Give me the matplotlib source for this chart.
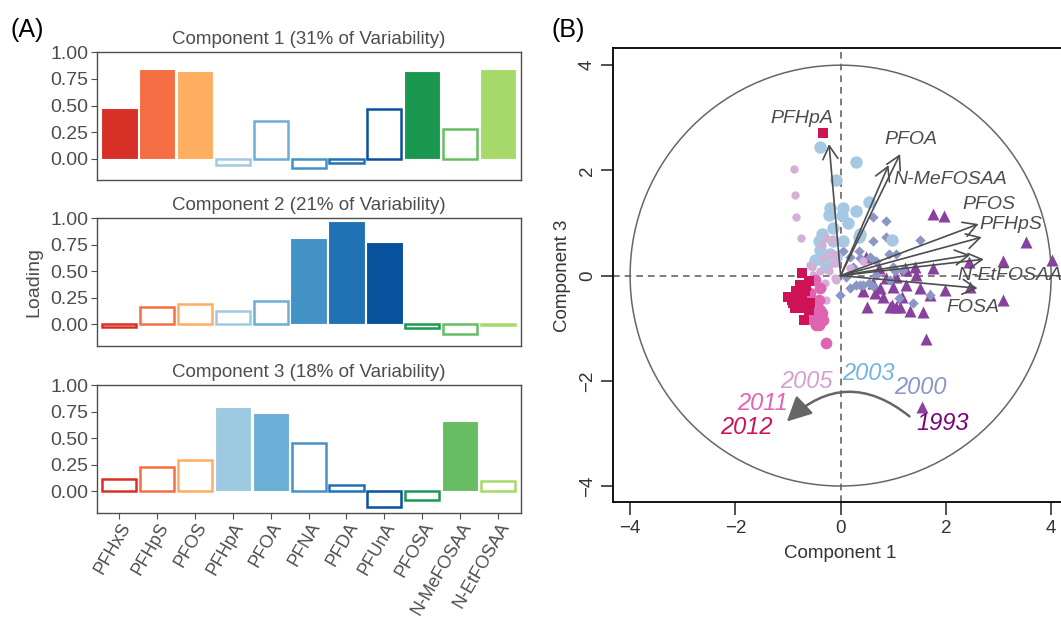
import matplotlib
matplotlib.use("Agg")
import matplotlib.pyplot as plt
from matplotlib.patches import Circle, FancyArrowPatch
import numpy as np

plt.rcParams['font.family'] = ['Liberation Sans', 'DejaVu Sans']

# Loadings for panel A
compounds = ['PFHxS', 'PFHpS', 'PFOS', 'PFHpA', 'PFOA', 'PFNA', 'PFDA', 'PFUnA',
             'PFOSA', 'N-MeFOSAA', 'N-EtFOSAA']
bar_colors = ['#d73027', '#f46d43', '#fdae61', '#9ecae1', '#6baed6', '#4292c6',
              '#2171b5', '#08519c', '#1a9850', '#66bd63', '#a6d96a']
comp1 = [0.48, 0.84, 0.82, -0.06, 0.355, -0.09, -0.04, 0.47, 0.82, 0.28, 0.84]
comp2 = [-0.02, 0.165, 0.195, 0.13, 0.22, 0.815, 0.97, 0.77, -0.03, -0.09, -0.01]
comp3 = [0.12, 0.23, 0.30, 0.79, 0.735, 0.455, 0.06, -0.15, -0.085, 0.66, 0.10]
comp_titles = ['Component 1 (31% of Variability)', 'Component 2 (21% of Variability)',
               'Component 3 (18% of Variability)']

# Scores for panel B (Component 1 vs Component 3)
years = ['1993', '2000', '2003', '2005', '2011', '2012']
x1993 = [1.76, 1.97, 3.52, 4.02, 3.09, 2.43, 1.75, 1.41, 1.25, 0.72, 0.49, 0.87, 1.06,
         1.43, 0.43, 0.75, 1.00, 1.25, 1.51, 1.70, 1.98, 2.46, 3.09, 0.51, 0.94, 1.06,
         1.32, 1.56, 0.65, 0.81, 1.16, 1.62, 1.55, 1.22, 0.62, 0.97, 1.13]
y1993 = [1.17, 1.14, 0.63, 0.30, 0.27, 0.25, 0.14, 0.17, 0.11, 0.14, 0.36, -0.05, -0.02,
         0.01, -0.30, -0.24, -0.21, -0.18, -0.24, -0.37, -0.27, -0.21, -0.46, -0.59, -0.59,
         -0.59, -0.68, -0.70, -0.34, -0.40, -0.40, -1.20, -2.50, 0.14, -0.15, -0.56, -0.59]
x2000 = [0.62, 0.87, 0.87, 0.62, 1.51, 0.91, 1.06, 0.34, 0.18, 0.37, 0.05, 0.24, 0.68,
         1.00, 1.19, 0.18, 0.37, 0.53, 0.62, -0.01, 1.10, 1.38, 1.70, 0.68, 0.94, 0.11,
         0.43, 0.56, 1.03, 0.30]
y2000 = [1.12, 1.03, 0.74, 0.65, 0.68, 0.42, 0.42, 0.46, 0.36, 0.33, 0.46, 0.17, 0.27,
         0.17, 0.11, -0.24, -0.18, -0.15, -0.20, -0.37, -0.43, -0.53, -0.37, 0.01, -0.08,
         -0.02, -0.18, 0.36, 0.08, -0.18]
x2003 = [-0.39, 0.29, -0.08, 0.54, -0.20, 0.05, -0.23, 0.02, 0.30, 0.14, -0.14, 0.34,
         -0.36, -0.42, -0.14, 0.05, 0.97, -0.39, -0.20, -0.49, -0.33, -0.08, -0.27, 0.37]
y2003 = [2.45, 2.15, 1.82, 1.39, 1.28, 1.28, 1.15, 1.15, 1.22, 1.00, 0.90, 0.74, 0.80,
         0.65, 0.65, 0.65, 0.68, 0.49, 0.42, 0.30, 0.30, 0.36, 0.17, 0.80]
x2005 = [-0.89, -0.87, -0.84, -0.75, -0.27, -0.36, -0.20, -0.14, -0.58, -0.33, -0.39,
         -0.23, -0.08, 0.18, 0.43, -0.30, -0.36, -0.52, -0.14, -0.55, -0.46, -0.11,
         -0.27, -0.17, -0.08]
y2005 = [2.03, 1.53, 1.12, 0.72, 0.71, 0.58, 0.42, 0.42, 0.20, 0.33, 0.08, 0.08, -0.08,
         0.14, 0.27, -0.15, -0.24, 0.01, 0.23, 0.17, -0.05, -0.05, -0.46, 0.68, 0.23]
x2011 = [-0.49, -0.39, -0.42, -0.39, -0.52, -0.42, -0.27, -0.52, -0.58, -0.46, -0.33,
         -0.58, -0.36, -0.46]
y2011 = [-0.08, -0.24, -0.46, -0.65, -0.84, -0.94, -1.29, -0.49, -0.65, -0.78, -0.84,
         -0.34, -0.72, -0.94]
x2012 = [-0.74, -0.61, -0.84, -1.00, -0.90, -0.74, -0.58, -0.80, -0.61, -0.70, -0.93,
         -0.68, -0.78, -0.34, -0.86, -0.66]
y2012 = [0.04, -0.11, -0.30, -0.40, -0.53, -0.46, -0.53, -0.62, -0.65, -0.84, -0.46,
         -0.30, -0.17, 2.71, -0.62, -0.20]

# loading vectors (tip positions) and their labels
vec_names = ['PFHpA', 'PFOA', 'N-MeFOSAA', 'PFOS', 'PFHpS', '', 'N-EtFOSAA', 'FOSA']
vec_x = [-0.22, 1.13, 0.91, 2.62, 2.68, 2.46, 2.72, 2.60]
vec_y = [2.50, 2.31, 2.10, 0.98, 0.73, 0.39, 0.31, -0.24]
vec_lab_x = [-0.74, 1.33, 2.08, 2.81, 3.24, 0, 3.22, 2.51]
vec_lab_y = [2.99, 2.59, 1.82, 1.36, 0.98, 0, 0.00, -0.61]

# year labels
year_lab_x = [1.94, 1.51, 0.53, -0.65, -1.48, -1.80]
year_lab_y = [-2.81, -2.12, -1.87, -2.01, -2.43, -2.89]

grey = '#4d4d4d'

fig = plt.figure(figsize=(10.61, 6.19), dpi=100)

# ---- Panel A ----
loadings = [comp1, comp2, comp3]
all_load = np.array(loadings)
best = np.abs(all_load).argmax(axis=0)
bottoms = [0.7092, 0.4415, 0.1717]
xpos = np.arange(len(compounds))
for i in range(3):
    ax = fig.add_axes([0.0911, bottoms[i], 0.3996, 0.2063])
    for j in range(len(compounds)):
        if best[j] == i:
            ax.bar(xpos[j], loadings[i][j], width=0.96, color=bar_colors[j],
                   edgecolor='white', linewidth=0.8)
        else:
            ax.bar(xpos[j], loadings[i][j], width=0.9, color='white',
                   edgecolor=bar_colors[j], linewidth=1.8)
    ax.set_xlim(-0.6, 10.6)
    ax.set_ylim(-0.2, 1.0)
    ax.set_yticks([0, 0.25, 0.5, 0.75, 1.0])
    ax.set_yticklabels(['0.00', '0.25', '0.50', '0.75', '1.00'])
    ax.set_title(comp_titles[i], fontsize=13.5, color=grey, pad=6)
    for s in ax.spines.values():
        s.set_color(grey)
        s.set_linewidth(1.0)
    ax.tick_params(axis='y', labelsize=14, labelcolor=grey, color=grey, length=4, pad=2)
    if i < 2:
        ax.set_xticks([])
    else:
        ax.set_xticks(xpos)
        ax.set_xticklabels(compounds, rotation=60, ha='right', va='top',
                           rotation_mode='anchor')
        ax.tick_params(axis='x', labelsize=12.8, labelcolor=grey, color=grey,
                       length=4, pad=1)
    if i == 1:
        ax.set_ylabel('Loading', fontsize=14, color=grey, labelpad=6)

fig.text(0.010, 0.952, '(A)', fontsize=18, va='center', ha='left')
fig.text(0.520, 0.952, '(B)', fontsize=18, va='center', ha='left')

# ---- Panel B ----
ax = fig.add_axes([0.578, 0.1885, 0.4286, 0.7334])
ax.set_xlim(-4.32, 4.32)
ax.set_ylim(-4.31, 4.32)
ax.axhline(0, color='#666666', lw=1.2, ls=(0, (4, 3)), zorder=1)
ax.axvline(0, color='#666666', lw=1.2, ls=(0, (4, 3)), zorder=1)
ax.add_patch(Circle((0, 0), 4, fill=False, color='#666666', lw=1.1, zorder=1))

ax.scatter(x1993, y1993, marker='^', s=75, color='#88419d', lw=0, zorder=2)
ax.scatter(x2000, y2000, marker='D', s=28, color='#8c96c6', lw=0, zorder=2)
ax.scatter(x2003, y2003, marker='o', s=80, color='#a6c8e2', lw=0, zorder=2)
ax.scatter(x2005, y2005, marker='o', s=36, color='#d4b0d8', lw=0, zorder=2)
ax.scatter(x2011, y2011, marker='o', s=70, color='#df65b0', lw=0, zorder=2)
ax.scatter(x2012, y2012, marker='s', s=50, color='#ce1256', lw=0, zorder=2)

for k in range(len(vec_x)):
    ax.annotate('', xy=(vec_x[k], vec_y[k]), xytext=(0, 0),
                arrowprops=dict(arrowstyle='->,head_length=0.8,head_width=0.45',
                                mutation_scale=12, color=grey, lw=1.2,
                                shrinkA=0, shrinkB=0), zorder=3)
    if vec_names[k]:
        ax.text(vec_lab_x[k], vec_lab_y[k], vec_names[k], fontsize=14, style='italic',
                color=grey, ha='center', va='center', zorder=4)

year_colors = ['#7a0177', '#8c96c6', '#74b4e0', '#d4a0d2', '#df65b0', '#ce1256']
for k in range(len(years)):
    ax.text(year_lab_x[k], year_lab_y[k], years[k], fontsize=17, style='italic',
            color=year_colors[k], ha='center', va='center', zorder=4)

ax.add_patch(FancyArrowPatch((1.35, -2.71), (-1.06, -2.81),
                             connectionstyle='arc3,rad=0.45',
                             arrowstyle='-|>,head_length=1.0,head_width=0.5',
                             mutation_scale=15, color='#666666', lw=1.8, zorder=3))

ax.set_xticks([-4, -2, 0, 2, 4])
ax.set_xticklabels(['\u22124', '\u22122', '0', '2', '4'])
ax.set_yticks([-4, -2, 0, 2, 4])
ax.set_yticklabels(['\u22124', '\u22122', '0', '2', '4'], rotation=90, va='center')
ax.tick_params(labelsize=13.5, labelcolor='#333333', color='#333333', length=9, width=1.2)
for s in ax.spines.values():
    s.set_linewidth(1.3)
ax.set_xlabel('Component 1', fontsize=13.5, color='#333333', labelpad=6)
ax.set_ylabel('Component 3', fontsize=13.5, color='#333333', labelpad=6)

fig.savefig('out.png', dpi=100)
